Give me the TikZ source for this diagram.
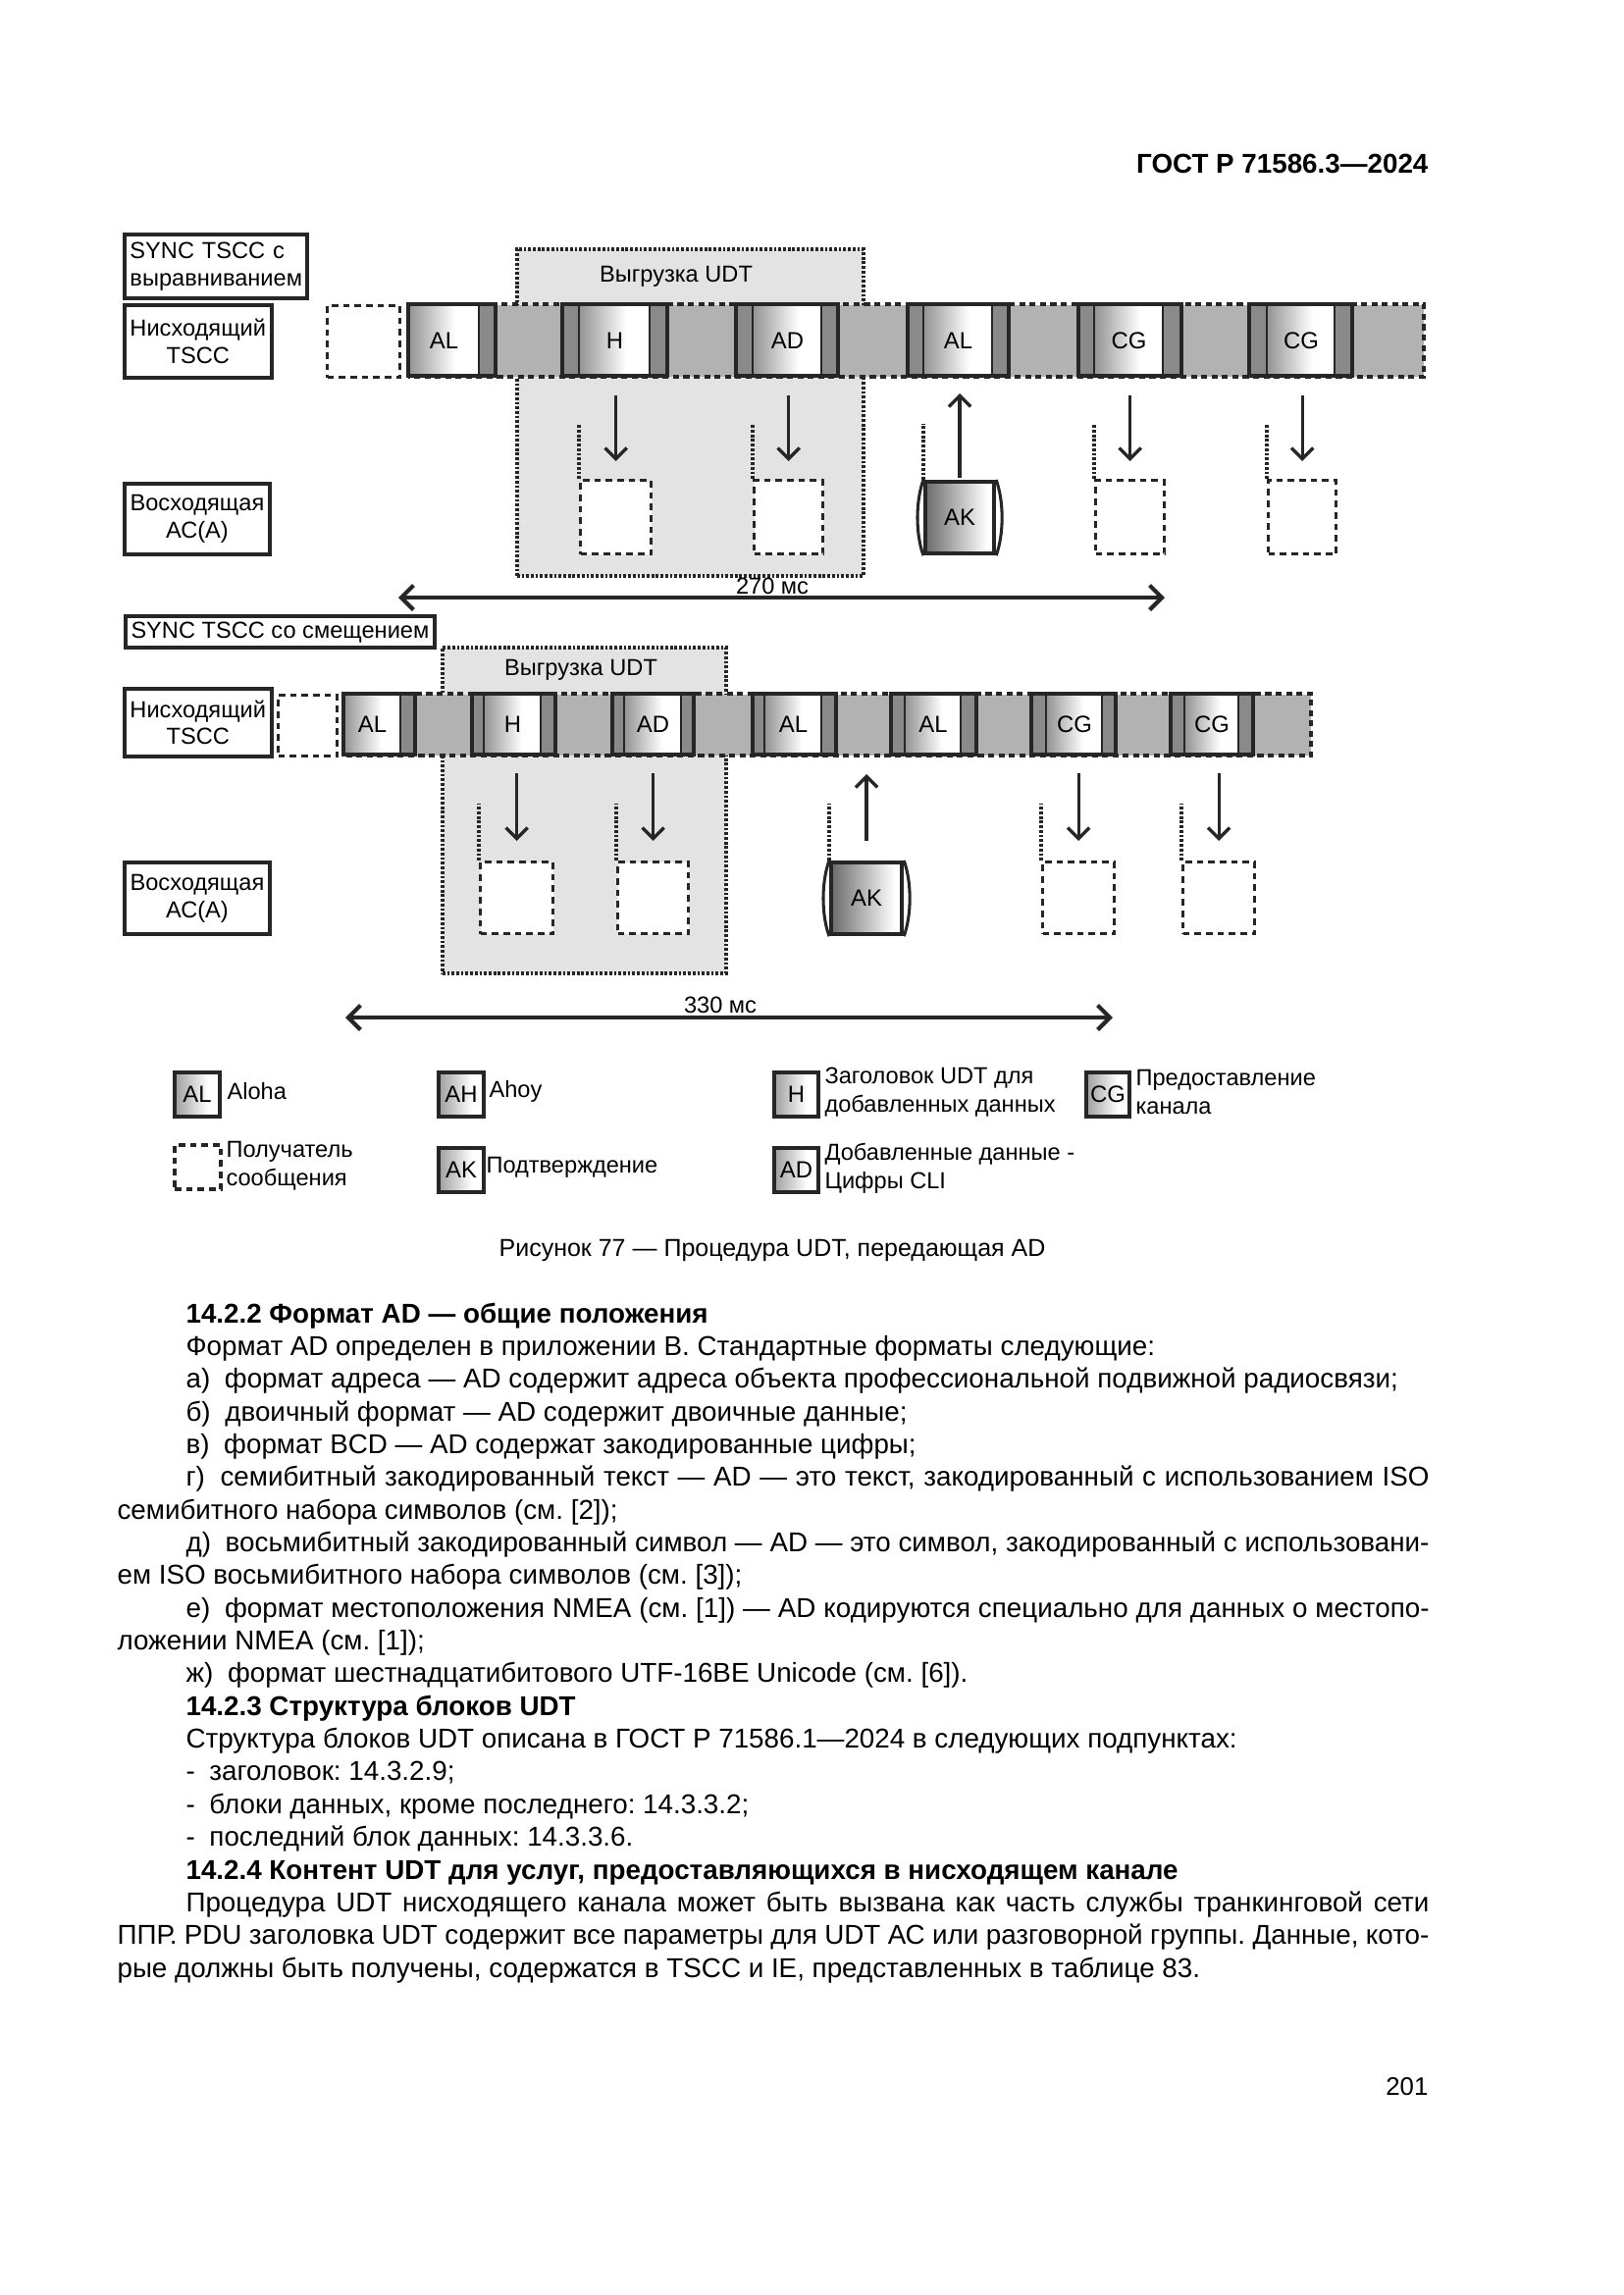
\documentclass[tikz,border=0pt]{standalone}
\usepackage{fontspec}
\setmainfont{Liberation Sans}
\usetikzlibrary{arrows.meta}
\pgfdeclarehorizontalshading{burstsh}{100bp}{color(0bp)=(black!42); color(25bp)=(black!42); color(58bp)=(white); color(100bp)=(white)}
\pgfdeclarehorizontalshading{aksh}{100bp}{color(0bp)=(black!58); color(25bp)=(black!58); color(70bp)=(white); color(100bp)=(white)}
\pgfdeclarehorizontalshading{legsh}{100bp}{color(0bp)=(black!38); color(25bp)=(black!38); color(62bp)=(white); color(100bp)=(white)}
\newcommand\bx[7]{\node[#6, anchor=north west, minimum width={(#4-#2)*0.36pt}, minimum height={(#5-#3)*0.36pt}] (#1) at (#2,#3) {#7};}
\newcommand\slotb[8]{%
  \fill[darkstrip] (#2,#6) rectangle (#3,#7);
  \fill[darkstrip] (#4,#6) rectangle (#5,#7);
  \bx{#1}{#3}{#6}{#4}{#7}{burst}{#8}
  \draw[line width=0.8pt, black!85] (#3,#6) -- (#3,#7) (#4,#6) -- (#4,#7);
  \draw[slotline] (#2,#6) rectangle (#5,#7);
}
\newcommand\barrel[1]{%
  \draw[line width=1.1pt, black!85] (#1.north west) .. controls +(-8,22) and +(-8,-22) .. (#1.south west);
  \draw[line width=1.1pt, black!85] (#1.north east) .. controls +(8,22) and +(8,-22) .. (#1.south east);
}
\newcommand\bodyfont{\fontsize{10}{12}\selectfont\frenchspacing}
\begin{document}
\begin{tikzpicture}[x=0.36pt,y=-0.36pt,
  lbl/.style={font=\fontsize{8.5}{10}\selectfont, inner sep=0pt},
  darkstrip/.style={fill=black!46},
  burst/.style={shade, shading=burstsh, inner sep=0pt, font=\fontsize{8.6}{10}\selectfont},
  slotline/.style={draw=black!85, line width=1.5pt},
  dashline/.style={draw=black!85, line width=1.5pt, dash pattern=on 2.2pt off 1.6pt},
  recv/.style={draw=black!85, line width=1.2pt, dash pattern=on 2.4pt off 1.8pt, fill=white, inner sep=0pt},
  udt/.style={draw=black!85, fill=black!11, line width=1.3pt, dash pattern=on 1pt off 0.7pt, inner sep=0pt},
  dotl/.style={draw=black!85, line width=1.1pt, dash pattern=on 1pt off 0.7pt},
  arr/.style={draw=black!85, line width=1.2pt, -{Straight Barb[length=4pt,width=8pt]}},
  dim/.style={draw=black!85, line width=1.5pt, {Straight Barb[length=4.5pt,width=9pt]}-{Straight Barb[length=4.5pt,width=9pt]}},
  lbox/.style={draw=black!85, line width=1.4pt, inner sep=2pt, font=\fontsize{8.5}{10}\selectfont},
  akbox/.style={draw=black!85, line width=1.5pt, shade, shading=aksh, inner sep=0pt, font=\fontsize{8.6}{10}\selectfont},
  legbox/.style={draw=black!85, line width=1.5pt, shade, shading=legsh, inner sep=0pt, font=\fontsize{8.6}{10}\selectfont},
  btxt/.style={anchor=base west, inner sep=0pt, font=\bodyfont},
]
\useasboundingbox (0,0) rectangle (1654,2339);
\fill[white] (0,0) rectangle (1654,2339);

% header
\node[anchor=base east, inner sep=0pt, font=\fontsize{10}{12}\selectfont\bfseries] (hdr) at (1456,176) {ГОСТ Р 71586.3—2024};

% ================= ROW 1 =================
\bx{sync1}{125}{237}{311}{302}{lbox, align=left, text width={(311-125)*0.36pt-4pt}}{SYNC TSCC с\\выравниванием}
\bx{dl1}{125}{309}{273}{383}{lbox, align=center}{Нисходящий\\TSCC}
\bx{ul1}{125}{491}{273}{563}{lbox, align=center}{Восходящая\\АС(А)}

\bx{udt1}{525}{252}{878}{585}{udt}{}
\node[lbl] (udt1t) at (689,282) {Выгрузка UDT};

\bx{e1}{332}{310}{406}{383}{recv}{}
\bx{bar1}{416}{310}{1450}{383}{fill=black!30, inner sep=0pt}{}
\draw[dashline] (bar1.north west) -- (bar1.north east) -- (bar1.south east) -- (bar1.south west);
\slotb{s11}{416}{416}{488}{505}{310}{383}{AL}
\slotb{s12}{573}{590}{662}{680}{310}{383}{H}
\slotb{s13}{750}{767}{837}{854}{310}{383}{AD}
\slotb{s14}{925}{941}{1011}{1028}{310}{383}{AL}
\slotb{s15}{1099}{1115}{1185}{1204}{310}{383}{CG}
\slotb{s16}{1273}{1291}{1360}{1378}{310}{383}{CG}

\bx{r12}{590}{488}{662}{563}{recv}{}
\bx{r13}{767}{488}{837}{563}{recv}{}
\bx{ak1}{941}{489}{1011}{562}{akbox}{AK}
\barrel{ak1}
\bx{r15}{1115}{488}{1185}{563}{recv}{}
\bx{r16}{1291}{488}{1360}{563}{recv}{}

\foreach \r in {r12,r13,r15,r16}{
  \draw[arr, shorten <=6.8pt, shorten >=6.5pt] (bar1.south -| \r.north) -- (\r.north);
  \draw[dotl] (\r.north west) -- ++(0,-56);
}
\draw[dotl] (ak1.north west) -- ++(0,-57);
\draw[arr, shorten <=0.6pt, shorten >=6.1pt] (ak1.north) -- (ak1.north |- bar1.south);

\coordinate (d1a) at (406,609);
\coordinate (d1b) at (1187,609);
\draw[dim] (d1a) -- (d1b);
\node[lbl] (d1t) at (787,597) {270 мс};

% ================= ROW 2 =================
\bx{sync2}{126}{626}{439}{655}{lbox, align=center}{SYNC TSCC со смещением}
\bx{dl2}{125}{700}{273}{769}{lbox, align=center}{Нисходящий\\TSCC}
\bx{ul2}{125}{877}{273}{950}{lbox, align=center}{Восходящая\\АС(А)}

\bx{udt2}{449}{658}{738}{990}{udt}{}
\node[lbl] (udt2t) at (592,683) {Выгрузка UDT};

\bx{e2}{282}{707}{342}{769}{recv}{}
\bx{bar2}{350}{707}{1335}{769}{fill=black!30, inner sep=0pt}{}
\draw[dashline] (bar2.north west) -- (bar2.north east) -- (bar2.south east) -- (bar2.south west);
\slotb{s21}{350}{350}{408}{423}{707}{769}{AL}
\slotb{s22}{481}{493}{551}{566}{707}{769}{H}
\slotb{s23}{624}{636}{694}{707}{707}{769}{AD}
\slotb{s24}{767}{779}{837}{852}{707}{769}{AL}
\slotb{s25}{908}{922}{979}{995}{707}{769}{AL}
\slotb{s26}{1051}{1066}{1123}{1137}{707}{769}{CG}
\slotb{s27}{1193}{1207}{1262}{1277}{707}{769}{CG}

\bx{r22}{488}{877}{562}{950}{recv}{}
\bx{r23}{628}{877}{700}{950}{recv}{}
\bx{ak2}{845}{877}{917}{950}{akbox}{AK}
\barrel{ak2}
\bx{r26}{1061}{877}{1134}{950}{recv}{}
\bx{r27}{1204}{877}{1277}{950}{recv}{}

\foreach \r in {r22,r23,r26,r27}{
  \draw[arr, shorten <=6.5pt, shorten >=7.2pt] (bar2.south -| \r.north) -- (\r.north);
  \draw[dotl] (\r.north west) -- ++(0,-58);
}
\draw[dotl] (ak2.north west) -- ++(0,-58);
\draw[arr, shorten <=7.2pt, shorten >=6.8pt] (ak2.north) -- (ak2.north |- bar2.south);

\coordinate (d2a) at (352,1037);
\coordinate (d2b) at (1134,1037);
\draw[dim] (d2a) -- (d2b);
\node[lbl] (d2t) at (734,1024) {330 мс};

% ================= LEGEND =================
\bx{lAL}{176}{1091}{222}{1136}{legbox}{AL}
\node[lbl, anchor=west] (tAL) at (231,1112) {Aloha};
\bx{lAH}{445}{1091}{491}{1136}{legbox}{AH}
\node[lbl, anchor=west] (tAH) at (498,1112) {Ahoy};
\bx{lH}{787}{1091}{832}{1136}{legbox}{H}
\node[lbl, anchor=west, align=left, font=\fontsize{8.5}{10.4}\selectfont] (tH) at (840,1113) {Заголовок UDT для\\добавленных данных};
\bx{lCG}{1105}{1091}{1149}{1136}{legbox}{CG}
\node[lbl, anchor=west, align=left, font=\fontsize{8.5}{10.4}\selectfont] (tCG) at (1157,1113) {Предоставление\\канала};
\bx{lR}{176}{1165}{223}{1210}{recv, line width=1.4pt}{}
\node[lbl, anchor=west, align=left, font=\fontsize{8.5}{10.4}\selectfont] (tR) at (230,1188) {Получатель\\сообщения};
\bx{lAK}{445}{1168}{491}{1213}{legbox}{AK}
\node[lbl, anchor=west] (tAK) at (495,1190) {Подтверждение};
\bx{lAD}{787}{1168}{832}{1213}{legbox}{AD}
\node[lbl, anchor=west, align=left, font=\fontsize{8.5}{10.4}\selectfont] (tAD) at (840,1191) {Добавленные данные -\\Цифры CLI};

% caption
\node[anchor=base, inner sep=0pt, font=\fontsize{9}{11}\selectfont] (cap) at (787,1280) {Рисунок 77 — Процедура UDT, передающая AD};

% ================= BODY =================
\node[btxt, font=\bodyfont\bfseries] (b0) at (189,1348) {14.2.2 Формат AD — общие положения};
\node[btxt] (b1) at (189,1381.4) {Формат AD определен в приложении В. Стандартные форматы следующие:};
\node[btxt] (b2) at (189,1414.7) {а)\hspace{0.25em} формат адреса — AD содержит адреса объекта профессиональной подвижной радиосвязи;};
\node[btxt] (b3) at (189,1448.1) {б)\hspace{0.25em} двоичный формат — AD содержит двоичные данные;};
\node[btxt] (b4) at (189,1481.4) {в)\hspace{0.25em} формат BCD — AD содержат закодированные цифры;};
\node[btxt] (b5) at (189,1514.8) {\makebox[456.1pt][s]{г)\hspace{0.25em} семибитный закодированный текст — AD — это текст, закодированный с использованием ISO}};
\node[btxt] (b6) at (119,1548.1) {семибитного набора символов (см. [2]);};
\node[btxt] (b7) at (189,1581.5) {\makebox[456.1pt][s]{д)\hspace{0.25em} восьмибитный закодированный символ — AD — это символ, закодированный с использовани-}};
\node[btxt] (b8) at (119,1614.8) {ем ISO восьмибитного набора символов (см. [3]);};
\node[btxt] (b9) at (189,1648.2) {\makebox[456.1pt][s]{е)\hspace{0.25em} формат местоположения NMEA (см. [1]) — AD кодируются специально для данных о местопо-}};
\node[btxt] (b10) at (119,1681.5) {ложении NMEA (см. [1]);};
\node[btxt] (b11) at (189,1714.9) {ж)\hspace{0.25em} формат шестнадцатибитового UTF-16BE Unicode (см. [6]).};
\node[btxt, font=\bodyfont\bfseries] (b12) at (189,1748.2) {14.2.3 Структура блоков UDT};
\node[btxt] (b13) at (189,1781.6) {Структура блоков UDT описана в ГОСТ Р 71586.1—2024 в следующих подпунктах:};
\node[btxt] (b14) at (189,1814.9) {-\hspace{0.25em} заголовок: 14.3.2.9;};
\node[btxt] (b15) at (189,1848.3) {-\hspace{0.25em} блоки данных, кроме последнего: 14.3.3.2;};
\node[btxt] (b16) at (189,1881.6) {-\hspace{0.25em} последний блок данных: 14.3.3.6.};
\node[btxt, font=\bodyfont\bfseries] (b17) at (189,1915) {14.2.4 Контент UDT для услуг, предоставляющихся в нисходящем канале};
\node[btxt] (b18) at (189,1948.3) {\makebox[456.1pt][s]{Процедура UDT нисходящего канала может быть вызвана как часть службы транкинговой сети}};
\node[btxt] (b19) at (119,1981.7) {\makebox[481.3pt][s]{ППР. PDU заголовка UDT содержит все параметры для UDT АС или разговорной группы. Данные, кото-}};
\node[btxt] (b20) at (119,2015) {рые должны быть получены, содержатся в TSCC и IE, представленных в таблице 83.};

\node[anchor=base east, inner sep=0pt, font=\fontsize{9.3}{12}\selectfont] (pg) at (1456,2135) {201};
\end{tikzpicture}
\end{document}
